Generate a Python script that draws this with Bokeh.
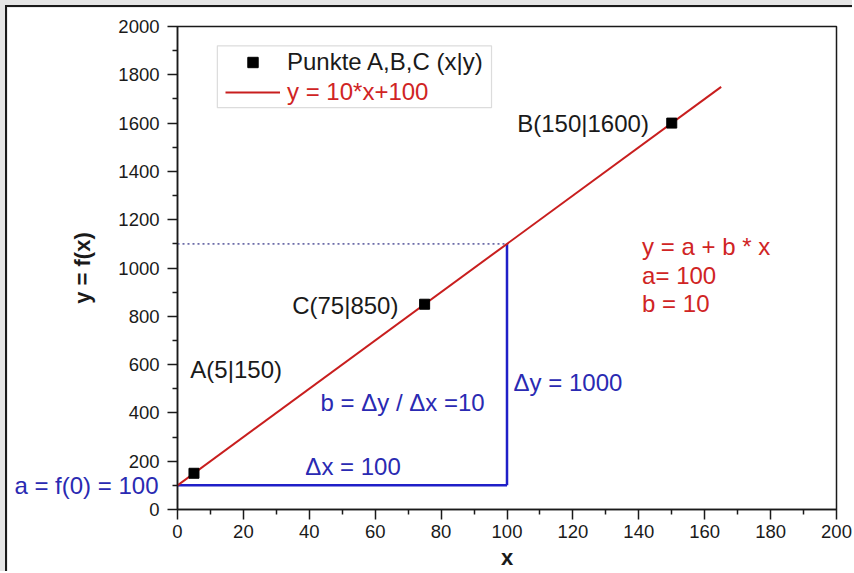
from bokeh.plotting import figure
from bokeh.models import (Label, Legend, LegendItem, BoxAnnotation, Range1d,
                          FixedTicker, LinearAxis)
from bokeh.layouts import column
from bokeh.embed import file_html
from bokeh.resources import INLINE

# ---------------- data ----------------
point_names = ["A", "B", "C"]
point_x = [5, 150, 75]
point_y = [150, 1600, 850]

line_x = [0, 165]          # y = 10*x + 100
line_y = [100, 1750]

intercept_label_y = [100]  # a = f(0)

dx_line_x = [0, 100]       # horizontal step (delta x)
dx_line_y = [100, 100]
dy_line_x = [100, 100]     # vertical step (delta y)
dy_line_y = [100, 1100]
guide_x = [0, 100]         # dotted guide at y = 1100
guide_y = [1100, 1100]

x_ticks = [0, 20, 40, 60, 80, 100, 120, 140, 160, 180, 200]
y_ticks = [0, 200, 400, 600, 800, 1000, 1200, 1400, 1600, 1800, 2000]

FONT = "Liberation Sans"
RED = "#c81e1e"
RED_T = "#d02424"
BLUE = "#1f1fc8"
BLUE_T = "#2a2ab2"
DARK = "#1a1a1a"
ANN_SIZE = "24px"

p = figure(width=847, height=566,
           x_range=Range1d(0, 200), y_range=Range1d(0, 2000),
           output_backend="svg", toolbar_location=None,
           min_border_left=170, min_border_right=18,
           min_border_top=19, min_border_bottom=64,
           background_fill_color="white", border_fill_color="white")
p.xgrid.visible = False
p.ygrid.visible = False
p.outline_line_color = DARK
p.outline_line_width = 1.5

p.xaxis.ticker = FixedTicker(ticks=x_ticks, minor_ticks=[t + 10 for t in x_ticks[:-1]])
p.yaxis.ticker = FixedTicker(ticks=y_ticks, minor_ticks=[t + 100 for t in y_ticks[:-1]])

for ax in (p.xaxis[0], p.yaxis[0]):
    ax.major_tick_out = 10
    ax.major_tick_in = 0
    ax.minor_tick_out = 5
    ax.minor_tick_in = 0
    ax.axis_line_color = DARK
    ax.axis_line_width = 1.5
    ax.major_tick_line_color = DARK
    ax.major_tick_line_width = 1.5
    ax.minor_tick_line_color = DARK
    ax.minor_tick_line_width = 1.5
    ax.major_label_text_font = FONT
    ax.major_label_text_font_size = "18.5px"
    ax.major_label_text_color = DARK
    ax.axis_label_text_font = FONT
    ax.axis_label_text_font_style = "bold"
    ax.axis_label_text_font_size = "22px"
    ax.axis_label_text_color = DARK

p.xaxis.axis_label = "x"
p.yaxis.axis_label = "y = f(x)"
p.xaxis.major_label_standoff = 5
p.yaxis.major_label_standoff = 8
p.xaxis.axis_label_standoff = 4
p.yaxis.axis_label_standoff = 20

# intercept label "a = f(0) = 100": an extra, line-less left axis whose
# single label is pulled back next to the main y axis
a_axis = LinearAxis(ticker=FixedTicker(ticks=intercept_label_y, minor_ticks=[]),
                    major_label_overrides={intercept_label_y[0]: "a = f(0) = 100"},
                    axis_line_color=None, major_tick_line_color=None,
                    minor_tick_line_color=None,
                    major_tick_out=0, major_tick_in=0,
                    minor_tick_out=0, minor_tick_in=0,
                    major_label_standoff=-91,
                    major_label_text_font=FONT,
                    major_label_text_font_size=ANN_SIZE,
                    major_label_text_color=BLUE_T)
p.add_layout(a_axis, "left")

# ---------------- lines and points ----------------
p.line(guide_x, guide_y, line_color="#6c6ca8", line_width=1.8, line_dash="2 3")
p.line(dx_line_x, dx_line_y, line_color=BLUE, line_width=2.5)
p.line(dy_line_x, dy_line_y, line_color=BLUE, line_width=2.5)
red_line = p.line(line_x, line_y, line_color=RED, line_width=2)
pts = p.scatter(point_x, point_y, marker="square", size=10,
                fill_color="black", line_color="black")

# ---------------- annotations ----------------
def add_label(x, y, text, color):
    lab = Label(x=x, y=y, text=text, text_font=FONT, text_font_size=ANN_SIZE,
                text_color=color, text_align="left", text_baseline="middle")
    p.add_layout(lab)

names = {n: (x, y) for n, x, y in zip(point_names, point_x, point_y)}
add_label(3.9, 580, "A(%d|%d)" % names["A"], DARK)
add_label(34.8, 845, "C(%d|%d)" % names["C"], DARK)
add_label(103.1, 1600, "B(%d|%d)" % names["B"], DARK)

add_label(141, 1091, "y = a + b * x", RED_T)
add_label(141, 971, "a= 100", RED_T)
add_label(141, 855, "b = 10", RED_T)

add_label(43.4, 442, "b = \u0394y / \u0394x =10", BLUE_T)
add_label(38.8, 180, "\u0394x = 100", BLUE_T)
add_label(102, 526, "\u0394y = 1000", BLUE_T)

# ---------------- legend ----------------
box = BoxAnnotation(left=12.1, right=95.3, top=1920, bottom=1664,
                    fill_color="white", fill_alpha=1.0,
                    line_color="#8a8a8a", line_width=1.2)
p.add_layout(box)

def make_legend(item, color, loc):
    lg = Legend(items=[item], location=loc, padding=0, margin=0, spacing=0,
                glyph_width=55, glyph_height=26, label_height=26,
                label_standoff=7, border_line_alpha=0,
                background_fill_alpha=0,
                label_text_font=FONT, label_text_font_size=ANN_SIZE,
                label_text_color=color)
    p.add_layout(lg, "center")

make_legend(LegendItem(label="Punkte A,B,C (x|y)", renderers=[pts]), DARK, (48, 433))
make_legend(LegendItem(label="y = 10*x+100", renderers=[red_line]), RED_T, (48, 403))

# ---------------- page ----------------
p.margin = (5, 0, 0, 5)
p.styles = {"border-top": "2px solid #1a1a1a", "border-left": "2px solid #1a1a1a"}
root = column(p, styles={"background-color": "#e5e5e5"})

open("out.html", "w").write(file_html(root, INLINE))
